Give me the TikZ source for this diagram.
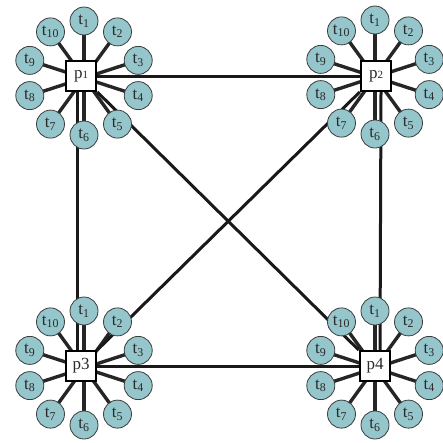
\documentclass[tikz,border=0pt]{standalone}
\usepackage{fontspec}
\setmainfont{Liberation Serif}
\usetikzlibrary{backgrounds,calc}
\definecolor{tfill}{HTML}{94C6CC}
\definecolor{tline}{HTML}{3C3C3C}
\definecolor{ink}{HTML}{2A2A2A}
\begin{document}
\begin{tikzpicture}[x=1pt,y=-1pt,
  term/.style={circle,draw=tline,line width=0.8pt,fill=tfill,minimum size=28pt,inner sep=0pt,text=ink,font=\fontsize{17}{17}\selectfont},
  hub/.style={rectangle,draw=black,line width=2.4pt,fill=white,minimum size=30pt,inner sep=0pt,text=ink,font=\fontsize{17}{17}\selectfont},
  spoke/.style={draw=black!85,line width=3.4pt},
  link/.style={draw=black!90,line width=3pt}]
\useasboundingbox (0,0) rectangle (443,442);
\foreach \k/\bx/\by/\sx/\sy/\lab in {
  1/81/76/84/78/{p{\fontsize{11}{11}\selectfont 1}},
  2/376/76/375/77/{p{\fontsize{11}{11}\selectfont 2}},
  3/81/366/84/368/{p3},
  4/375/366/375/368/{p4}}{
  \node[hub] (p\k) at (\bx,\by) {\lab};
  \coordinate (c\k) at (\sx,\sy);
  \foreach \i in {1,...,10}{
    \node[term] (p\k-t\i) at ($(c\k)+({36*(\i-1)-90}:57)$) {t\textsubscript{\i}};
  }
}
\begin{scope}[on background layer]
  \foreach \k in {1,2,3,4}{
    \foreach \i in {1,...,10}{
      \draw[spoke] (c\k) -- (p\k-t\i.center);
    }
  }
  \draw[link] (p1) -- (p2);
  \draw[link] (p3) -- (p4);
  \draw[link] ([xshift=-4pt]p1.south) -- ([xshift=-4pt]p3.north);
  \draw[link] ([xshift=5pt]p2.south) -- ([xshift=5pt]p4.north);
  \draw[link] (p1) -- (p4);
  \draw[link] (p2) -- (p3);
\end{scope}
\end{tikzpicture}
\end{document}
